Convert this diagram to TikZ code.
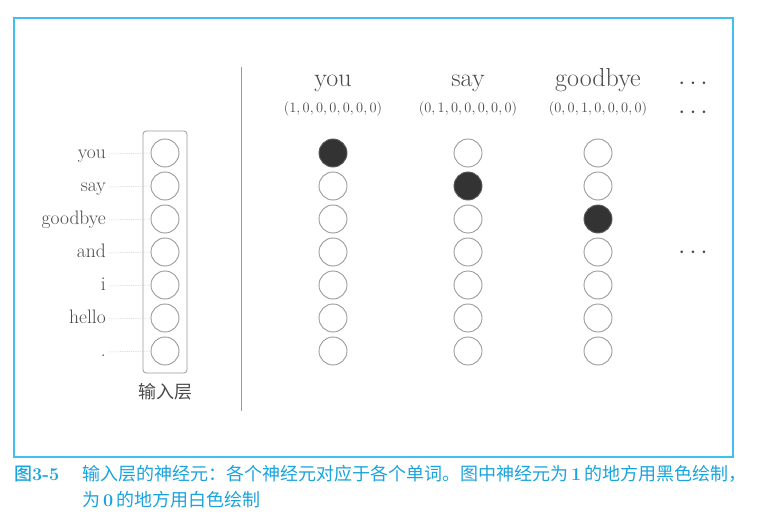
\documentclass[tikz,border=0pt]{standalone}
\usepackage{fontspec}
\newfontfamily\cjk{Noto Sans CJK SC}
\newfontfamily\cjkb{Noto Sans CJK SC Medium}
\usetikzlibrary{fit}
\definecolor{frameblue}{HTML}{3FC0EE}
\definecolor{capblue}{HTML}{1AA3DC}
\definecolor{txt}{HTML}{4A4A4A}
\definecolor{ring}{HTML}{9A9A9A}
\definecolor{fillc}{HTML}{333333}
\tikzset{
  neuron/.style={circle,draw=ring,line width=0.9pt,minimum size=28pt,inner sep=0pt,fill=white},
  onn/.style={neuron,fill=fillc,draw=fillc!80},
  wlabel/.style={anchor=east,text=txt,font=\fontsize{19.5}{22}\selectfont,inner sep=0pt},
  title/.style={text=txt,font=\fontsize{26}{30}\selectfont,inner sep=0pt},
  vec/.style={text=txt,font=\fontsize{14.4}{17}\selectfont,inner sep=0pt},
  guide/.style={draw=gray!40,dashed,dash pattern=on 1.2pt off 1pt,line width=0.5pt},
  captext/.style={text=capblue,font=\cjk\fontsize{18}{21}\selectfont,anchor=west,inner sep=0pt}
}
\newcommand{\capdig}[1]{{\rmfamily\bfseries #1}}
\begin{document}
\begin{tikzpicture}[x=1pt,y=-1pt]
\useasboundingbox (0,0) rectangle (758,516);
\draw[frameblue,line width=1.2pt] (14,18) rectangle (733,457);
% input layer
\foreach \w [count=\i] in {you,say,goodbye,and,i,hello,.} {
  \node[neuron] (in\i) at (165,{153+33*(\i-1)}) {};
  \node[wlabel] (w\i) at (106,{154+33*(\i-1)}) {\strut\w};
  \draw[guide] (w\i.east) ++(3,0) coordinate (g\i) -- (in\i.west);
}
\node[fit=(in1)(in7),draw=ring,line width=0.8pt,rounded corners=3pt,inner sep=7.5pt] (box) {};
\node[text=txt,font=\cjk\fontsize{18}{21}\selectfont] (inl) at (165,392) {输入层};
% separator
\coordinate (st) at (241,67);
\coordinate (sb) at (241,411);
\draw[ring,line width=0.8pt] (st) -- (sb);
% one-hot columns
\foreach \x/\w/\v/\k in {333/you/{(1,0,0,0,0,0,0)}/1, 468/say/{(0,1,0,0,0,0,0)}/2, 598/goodbye/{(0,0,1,0,0,0,0)}/3} {
  \node[title,anchor=base] (t\k) at (\x,87) {\w};
  \node[vec] (v\k) at (\x,109) {$\v$};
  \foreach \r in {1,...,7} {
    \ifnum\r=\k
      \node[onn] (c\k-\r) at (\x,{153+33*(\r-1)}) {};
    \else
      \node[neuron] (c\k-\r) at (\x,{153+33*(\r-1)}) {};
    \fi
  }
}
\node[title] (d1) at (693,84) {$\cdots$};
\node[title] (d2) at (693,113) {$\cdots$};
\node[title] (d3) at (693,253) {$\cdots$};
% caption
\node[captext,font=\cjkb\fontsize{18}{21}\selectfont] (capa) at (14,474) {图\capdig{3-5}};
\node[captext] (capb) at (82,474) {输入层的神经元：各个神经元对应于各个单词。图中神经元为\,\capdig{1}\,的地方用黑色绘制，};
\node[captext] (capc) at (82,500) {为\,\capdig{0}\,的地方用白色绘制};
\end{tikzpicture}
\end{document}
